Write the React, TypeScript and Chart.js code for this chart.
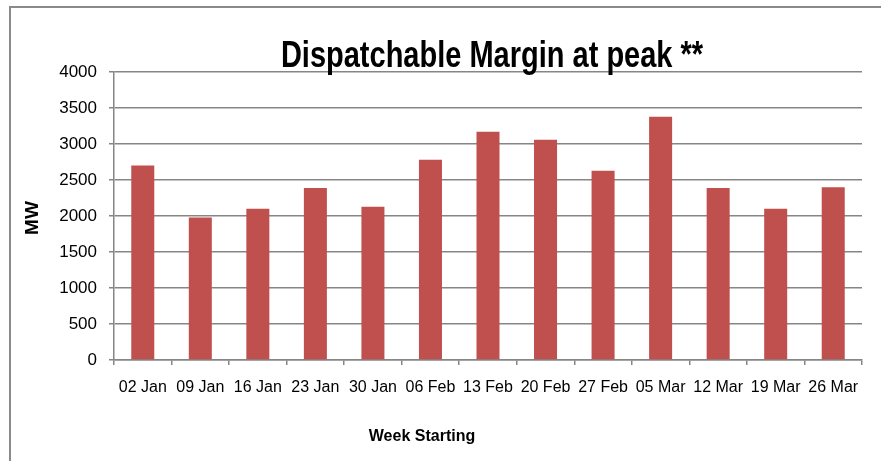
import React, { useEffect, useRef } from "react";
import { Chart, registerables } from "chart.js";

Chart.register(...registerables);

const categories = [
  "02 Jan", "09 Jan", "16 Jan", "23 Jan", "30 Jan", "06 Feb", "13 Feb",
  "20 Feb", "27 Feb", "05 Mar", "12 Mar", "19 Mar", "26 Mar",
];
const marginMW = [2700, 1980, 2100, 2390, 2130, 2780, 3170, 3060, 2630, 3380, 2390, 2100, 2400];
const titleText = "Dispatchable Margin at peak **";
const yAxisTitle = "MW";
const xAxisTitle = "Week Starting";
const yMin = 0;
const yMax = 4000;
const yStep = 500;

const FONT = "'Liberation Sans', Arial, sans-serif";
const GRID = "#868686";
const BAR = "#C0504D";

const decor = {
  id: "decor",
  beforeDraw(chart: any) {
    const { ctx, width, height } = chart;
    ctx.save();
    ctx.fillStyle = "#ffffff";
    ctx.fillRect(0, 0, width, height);
    ctx.strokeStyle = "#8a8a8a";
    ctx.lineWidth = 2;
    ctx.beginPath();
    ctx.moveTo(10, height);
    ctx.lineTo(10, 7);
    ctx.lineTo(width, 7);
    ctx.stroke();
    ctx.restore();
  },
  afterDraw(chart: any) {
    const { ctx, chartArea } = chart;
    ctx.save();
    ctx.fillStyle = "#000000";
    // Title
    ctx.font = `bold 29px ${FONT}`;
    ctx.textAlign = "center";
    ctx.textBaseline = "alphabetic";
    ctx.save();
    ctx.translate(492, 67);
    ctx.scale(1, 1.25);
    ctx.fillText(titleText, 0, 0);
    ctx.restore();
    // Y axis title
    ctx.save();
    ctx.font = `bold 19px ${FONT}`;
    ctx.textBaseline = "middle";
    ctx.translate(33, (chartArea.top + chartArea.bottom) / 2 + 2);
    ctx.rotate(-Math.PI / 2);
    ctx.fillText(yAxisTitle, 0, 0);
    ctx.restore();
    // X axis title
    ctx.font = `bold 16px ${FONT}`;
    ctx.textBaseline = "middle";
    ctx.fillText(xAxisTitle, 422, 437);
    ctx.restore();
  },
};

export default function App() {
  const ref = useRef<HTMLCanvasElement | null>(null);

  useEffect(() => {
    if (!ref.current) return;
    const chart = new Chart(ref.current, {
      type: "bar",
      data: {
        labels: categories,
        datasets: [
          {
            label: "Dispatchable Margin",
            data: marginMW,
            backgroundColor: BAR,
            borderWidth: 0,
            barPercentage: 0.8,
            categoryPercentage: 0.5,
          },
        ],
      },
      options: {
        animation: false,
        responsive: false,
        devicePixelRatio: 1,
        layout: { padding: { top: 72, right: 19, left: 0, bottom: 0 } },
        plugins: {
          legend: { display: false },
          title: { display: false },
          tooltip: { enabled: false },
        },
        scales: {
          x: {
            grid: {
              display: true,
              offset: true,
              drawOnChartArea: false,
              drawTicks: true,
              tickLength: 5,
              color: GRID,
              lineWidth: 1.5,
            },
            border: { display: true, color: GRID, width: 1.5 },
            ticks: {
              color: "#000",
              font: { family: FONT, size: 16 },
              padding: 13,
              maxRotation: 0,
              autoSkip: false,
            },
            afterFit(scale: any) {
              scale.height = 101;
            },
          },
          y: {
            min: yMin,
            max: yMax,
            grid: {
              color: GRID,
              lineWidth: 1.5,
              drawTicks: true,
              tickLength: 5,
            },
            border: { display: true, color: GRID, width: 1.5 },
            ticks: {
              stepSize: yStep,
              color: "#000",
              font: { family: FONT, size: 17 },
              padding: 12,
              callback: (v: any) => String(v),
            },
            afterFit(scale: any) {
              scale.width = 114;
            },
          },
        },
      },
      plugins: [decor],
    });
    return () => chart.destroy();
  }, []);

  return (
    <div style={{ position: "absolute", left: 0, top: 0, width: 881, height: 461 }}>
      <canvas ref={ref} width={881} height={461} style={{ display: "block" }} />
    </div>
  );
}
